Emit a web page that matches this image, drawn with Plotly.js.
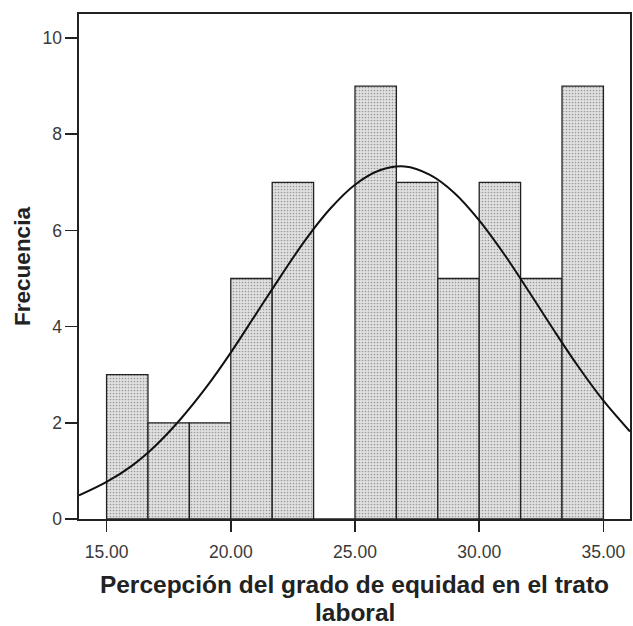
<!DOCTYPE html>
<html>
<head>
<meta charset="utf-8">
<script src="https://cdn.plot.ly/plotly-3.0.1.min.js"></script>
<style>html,body{margin:0;padding:0;background:#fff;}</style>
</head>
<body>
<div id="chart" style="width:633px;height:626px;"></div>
<script>
// Histogram bins (centres) and frequencies
const binCenters = [15.833, 17.5, 19.167, 20.833, 22.5, 24.167, 25.833, 27.5, 29.167, 30.833, 32.5, 34.167];
const frequencies = [3, 2, 2, 5, 7, 0, 9, 7, 5, 7, 5, 9];
const binWidth = 1.6667;
// Normal curve points
const curveX = [13.89, 15, 16, 17, 18, 19, 20, 21, 22, 23, 24, 25, 26, 27, 28, 29, 30, 31, 32, 33, 34, 35, 36.07];
const curveY = [0.49, 0.77, 1.10, 1.54, 2.09, 2.73, 3.46, 4.25, 5.04, 5.80, 6.45, 6.95, 7.25, 7.33, 7.16, 6.78, 6.21, 5.51, 4.73, 3.93, 3.16, 2.46, 1.82];
const xTicks = [15, 20, 25, 30, 35];
const yTicks = [0, 2, 4, 6, 8, 10];
const xTitleLines = ['Percepción del grado de equidad en el trato', 'laboral'];
const yTitle = 'Frecuencia';

const bars = {
  type: 'bar', x: binCenters, y: frequencies, width: binWidth,
  marker: {
    color: '#dedede',
    line: {color: '#222', width: 1.3},
    pattern: {shape: '.', fgcolor: '#9a9a9a', bgcolor: '#e2e2e2', size: 3, solidity: 0.25, fillmode: 'replace'}
  },
  hoverinfo: 'skip', showlegend: false
};
const curve = {
  type: 'scatter', mode: 'lines', x: curveX, y: curveY,
  line: {color: '#111', width: 2, shape: 'spline', smoothing: 1},
  showlegend: false, hoverinfo: 'skip'
};

const fontFam = 'Liberation Sans, Arial, sans-serif';
const layout = {
  width: 633, height: 626,
  margin: {l: 79, r: 3, t: 14, b: 107},
  paper_bgcolor: '#fff', plot_bgcolor: '#fff',
  bargap: 0,
  font: {family: fontFam, color: '#333'},
  xaxis: {
    range: [13.89, 36.07], tickvals: xTicks, ticktext: xTicks.map(v => v.toFixed(2)),
    ticks: 'outside', ticklen: 11, tickwidth: 1.5, tickcolor: '#222',
    ticklabelstandoff: 5,
    showgrid: false, zeroline: false,
    showline: true, linecolor: '#222', linewidth: 1.6, mirror: true,
    tickfont: {size: 17.5, color: '#3a3a3a', family: fontFam},
    title: {text: '<b>' + xTitleLines[0] + '</b>', font: {size: 24.5, color: '#222', family: fontFam}, standoff: 15}
  },
  yaxis: {
    range: [0, 10.5], tickvals: yTicks,
    ticks: 'outside', ticklen: 12, tickwidth: 1.5, tickcolor: '#222',
    showgrid: false, zeroline: false,
    showline: true, linecolor: '#222', linewidth: 1.6, mirror: true,
    tickfont: {size: 17.5, color: '#3a3a3a', family: fontFam},
    title: {text: '<b>' + yTitle + '</b>', font: {size: 22.5, color: '#222', family: fontFam}, standoff: 5}
  },
  annotations: [{
    xref: 'paper', yref: 'paper', x: 0.5, y: -0.185, xanchor: 'center', yanchor: 'middle',
    text: '<b>' + xTitleLines[1] + '</b>', showarrow: false,
    font: {size: 24.5, color: '#222', family: fontFam}
  }]
};
Plotly.newPlot('chart', [bars, curve], layout, {displayModeBar: false, staticPlot: true});
</script>
</body>
</html>
